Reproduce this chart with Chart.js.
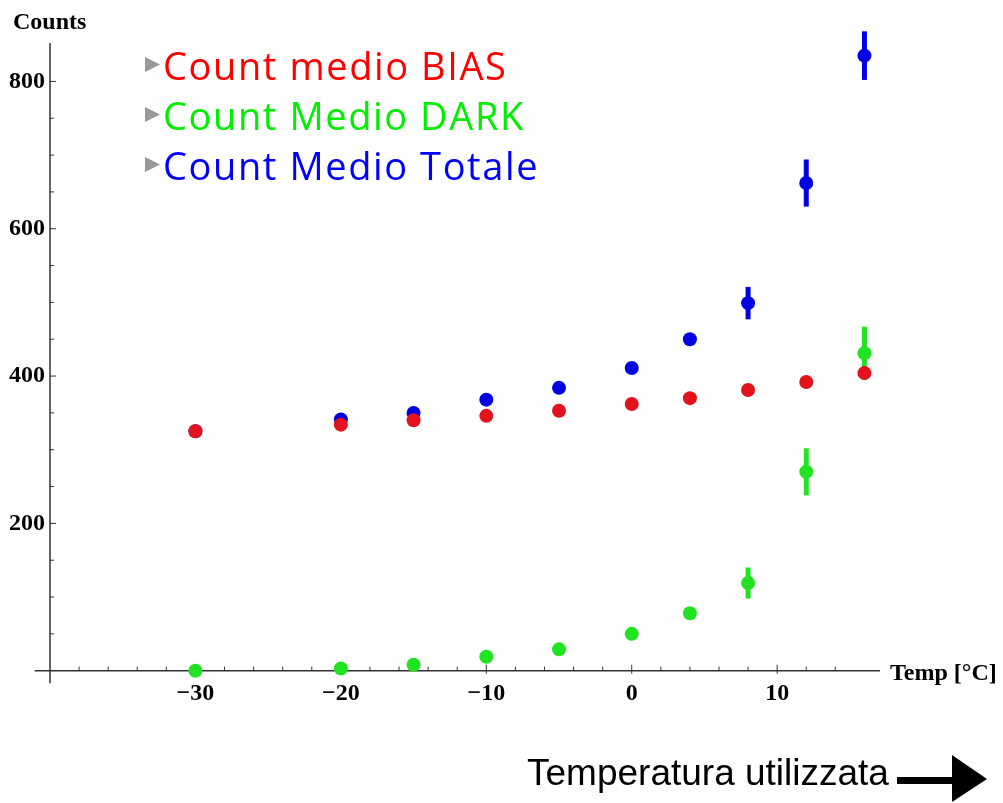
<!DOCTYPE html>
<html><head><meta charset="utf-8">
<script src="https://cdn.jsdelivr.net/npm/chart.js@4"></script>
<style>html,body{margin:0;padding:0;background:#fff;overflow:hidden}</style>
</head><body>
<canvas id="c" width="1003" height="803"></canvas>
<script>
const temps = [-30, -20, -15, -10, -5, 0, 4, 8, 12, 16];
const biasCounts = [325, 334, 340, 346, 353, 362, 370, 381, 392, 404];
const darkCounts = [0, 3, 8, 19, 29, 50, 78, 119, 270, 431];
const totalCounts = [325, 341, 350, 368, 384, 411, 450, 499, 662, 835];
const biasErr = [0, 0, 0, 0, 0, 0, 0, 0, 0, 0];
const darkErr = [0, 0, 0, 0, 0, 0, 0, 21, 32, 36];
const totalErr = [0, 0, 0, 0, 0, 0, 0, 22, 32, 33];
const seriesLabels = ['Count medio BIAS', 'Count Medio DARK', 'Count Medio Totale'];
const xTickLabels = [-30, -20, -10, 0, 10];
const yTickLabels = [200, 400, 600, 800];
const yAxisTitle = 'Counts';
const xAxisTitle = 'Temp [°C]';
const caption = 'Temperatura utilizzata';

const X_MIN = -40, X_MAX = 17.07, Y_MIN = 0, Y_MAX = 853.5;

function pts(ys) { return temps.map((t, i) => ({x: t, y: ys[i]})); }
function fmt(v) { return v < 0 ? '\u2212' + Math.abs(v) : String(v); }

const pointColors = ['#e3121c', '#22e322', '#0000e3'];
const textColors = ['#ff0000', '#00ee00', '#0000ff'];
const errs = [biasErr, darkErr, totalErr];

const errorBars = {
  id: 'errorBars',
  beforeDatasetDraw(chart, args) {
    const i = args.index, meta = args.meta, ys = chart.scales.y;
    const e = errs[i], vals = [biasCounts, darkCounts, totalCounts][i];
    const ctx = chart.ctx;
    ctx.save();
    ctx.strokeStyle = pointColors[i];
    ctx.lineWidth = 5;
    meta.data.forEach((p, k) => {
      if (!e[k]) return;
      ctx.beginPath();
      ctx.moveTo(p.x, ys.getPixelForValue(vals[k] + e[k]));
      ctx.lineTo(p.x, ys.getPixelForValue(vals[k] - e[k]));
      ctx.stroke();
    });
    ctx.restore();
  }
};

const axesPlugin = {
  id: 'axesPlugin',
  beforeDatasetsDraw(chart) {
    const ctx = chart.ctx, xs = chart.scales.x, ys = chart.scales.y;
    const x0 = xs.getPixelForValue(X_MIN), y0 = ys.getPixelForValue(0);
    ctx.save();
    ctx.strokeStyle = '#333';
    ctx.lineWidth = 1.5;
    ctx.beginPath();
    ctx.moveTo(xs.getPixelForValue(-41.05), y0);
    ctx.lineTo(xs.getPixelForValue(X_MAX), y0);
    ctx.moveTo(x0, ys.getPixelForValue(852));
    ctx.lineTo(x0, ys.getPixelForValue(-17));
    ctx.stroke();
    ctx.lineWidth = 1;
    ctx.beginPath();
    xs.ticks.forEach(t => {
      const v = t.value;
      if (v <= X_MIN || Math.abs(v % 2) > 1e-6) return;
      const len = (v % 10 === 0) ? 6 : 4;
      const px = xs.getPixelForValue(v);
      ctx.moveTo(px, y0 + (v % 10 === 0 ? 3 : 0));
      ctx.lineTo(px, y0 - len);
    });
    ys.ticks.forEach(t => {
      const v = t.value;
      if (v <= 0 || Math.abs(v % 50) > 1e-6) return;
      const len = (v % 200 === 0) ? 6 : 4;
      const py = ys.getPixelForValue(v);
      ctx.moveTo(x0, py);
      ctx.lineTo(x0 + len, py);
    });
    ctx.stroke();
    ctx.restore();
  }
};

const textPlugin = {
  id: 'textPlugin',
  afterDraw(chart) {
    const ctx = chart.ctx, xs = chart.scales.x, ys = chart.scales.y;
    ctx.save();
    ctx.fillStyle = '#000';
    ctx.textBaseline = 'alphabetic';
    ctx.textAlign = 'left';
    ctx.font = 'bold 24px "Liberation Serif"';
    ctx.fillText(yAxisTitle, 13, 29);
    ctx.fillText(xAxisTitle, xs.getPixelForValue(X_MAX) + 10, ys.getPixelForValue(0) + 9);
    // legend
    ctx.font = '38px "Open Sans"';
    ctx.letterSpacing = '1.6px';
    chart.data.datasets.forEach((ds, i) => {
      const base = 80 + i * 50;
      ctx.fillStyle = '#999';
      ctx.beginPath();
      ctx.moveTo(145, base - 23);
      ctx.lineTo(160, base - 15.5);
      ctx.lineTo(145, base - 8);
      ctx.closePath();
      ctx.fill();
      ctx.fillStyle = textColors[i];
      ctx.fillText(ds.label, 163, base);
    });
    ctx.letterSpacing = '0px';
    // caption + arrow
    ctx.fillStyle = '#000';
    ctx.font = '37px "Liberation Sans"';
    ctx.fillText(caption, 527, 785);
    ctx.fillRect(897, 777, 56, 7);
    ctx.beginPath();
    ctx.moveTo(952, 755);
    ctx.lineTo(987, 779);
    ctx.lineTo(952, 802);
    ctx.closePath();
    ctx.fill();
    ctx.restore();
  }
};

const tickFont = {family: 'Liberation Serif', weight: 'bold', size: 24};

new Chart(document.getElementById('c'), {
  type: 'scatter',
  data: {
    datasets: [
      {label: seriesLabels[0], data: pts(biasCounts), backgroundColor: pointColors[0], borderWidth: 0, pointRadius: 7, clip: false},
      {label: seriesLabels[1], data: pts(darkCounts), backgroundColor: pointColors[1], borderWidth: 0, pointRadius: 7, clip: false},
      {label: seriesLabels[2], data: pts(totalCounts), backgroundColor: pointColors[2], borderWidth: 0, pointRadius: 7, clip: false}
    ]
  },
  options: {
    responsive: false,
    animation: false,
    events: [],
    layout: {padding: {left: 0, top: 42, right: 123, bottom: 0}},
    plugins: {legend: {display: false}, tooltip: {enabled: false}, title: {display: false}},
    scales: {
      x: {
        type: 'linear', position: 'bottom', min: X_MIN, max: X_MAX,
        grid: {display: false, drawTicks: false}, border: {display: false},
        ticks: {
          stepSize: 2, autoSkip: false, maxRotation: 0, padding: 9, color: '#000', font: tickFont,
          callback: v => xTickLabels.includes(v) ? fmt(v) : ''
        },
        afterFit(s) { s.height = 132.3; }
      },
      y: {
        type: 'linear', position: 'left', min: Y_MIN, max: Y_MAX,
        grid: {display: false, drawTicks: false}, border: {display: false},
        ticks: {
          stepSize: 50, autoSkip: false, padding: 5, color: '#000', font: tickFont,
          callback: v => yTickLabels.includes(v) ? String(v) : ''
        },
        afterFit(s) { s.width = 50; }
      }
    }
  },
  plugins: [errorBars, axesPlugin, textPlugin]
});
</script>
</body></html>
